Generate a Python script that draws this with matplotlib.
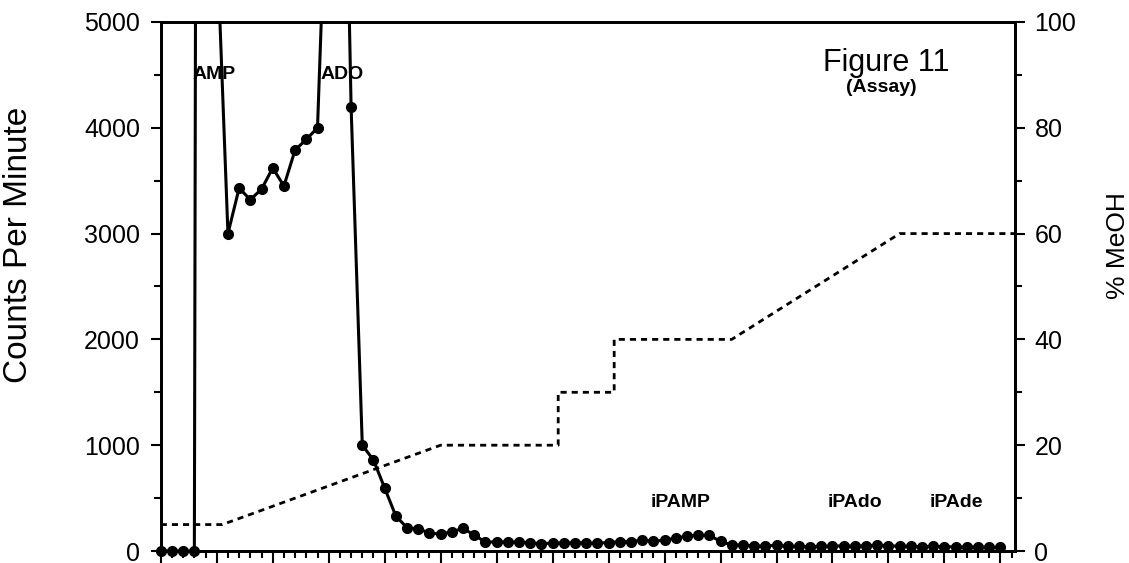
import numpy as np
import matplotlib.pyplot as plt
from matplotlib.ticker import MultipleLocator

plt.rcParams['font.family'] = ['Liberation Sans', 'DejaVu Sans']

# fraction number and counts per minute (peaks at 4-5 and 15-16 run off scale)
fractions = np.arange(76)
counts = [0, 0, 0, 0, 50000, 5800, 3000, 3430, 3320, 3420,
          3620, 3450, 3790, 3890, 4000, 7000, 9500, 4200, 1000, 860,
          595, 330, 220, 210, 170, 160, 180, 215, 150, 85,
          85, 85, 85, 78, 70, 75, 75, 80, 75, 75,
          80, 88, 88, 104, 90, 104, 120, 142, 150, 150,
          90, 57, 57, 47, 47, 55, 45, 45, 40, 45,
          45, 50, 45, 50, 55, 50, 45, 45, 40, 45,
          40, 40, 35, 40, 35, 35]

# methanol gradient breakpoints
meoh_x = [0, 5.5, 25, 35.5, 35.5, 40.5, 40.5, 51, 66, 76.3]
meoh_pct = [5, 5, 20, 20, 30, 30, 40, 40, 60, 60]

peak_names = ['AMP', 'ADO', 'iPAMP', 'iPAdo', 'iPAde']
peak_x = [4.76, 16.2, 46.4, 62.0, 71.1]
peak_y = [4500, 4500, 454, 454, 454]

fig = plt.figure(figsize=(11.29, 5.63), dpi=100)
ax = fig.add_axes([0.1424, 0.0213, 0.7566, 0.9397])

ax.plot(fractions, counts, '-', color='k', lw=2.2)
counts_arr = np.array(counts)
inside = counts_arr <= 5000
ax.plot(fractions[inside], counts_arr[inside], 'o', color='k', ms=7, clip_on=False)
ax.set_xlim(0, 76.3)
ax.set_ylim(0, 5000)

ax2 = ax.twinx()
ax2.plot(meoh_x, meoh_pct, ls=(0, (2.2, 1.8)), color='k', lw=2)
ax2.set_ylim(0, 100)

for a in (ax, ax2):
    for s in a.spines.values():
        s.set_linewidth(2)

ax.xaxis.set_major_locator(MultipleLocator(5))
ax.xaxis.set_minor_locator(MultipleLocator(1))
ax.yaxis.set_major_locator(MultipleLocator(1000))
ax.yaxis.set_minor_locator(MultipleLocator(500))
ax2.yaxis.set_major_locator(MultipleLocator(20))
ax2.yaxis.set_minor_locator(MultipleLocator(10))

ax.tick_params(axis='x', which='both', direction='out', labelbottom=False, width=1.5)
ax.tick_params(axis='x', which='major', length=9)
ax.tick_params(axis='x', which='minor', length=5)
ax.tick_params(axis='y', which='both', direction='out', width=1.5, right=False, labelsize=18, pad=8)
ax.tick_params(axis='y', which='major', length=7)
ax.tick_params(axis='y', which='minor', length=5)
ax2.tick_params(axis='y', which='both', direction='out', width=1.5, labelsize=18, pad=7)
ax2.tick_params(axis='y', which='major', length=7)
ax2.tick_params(axis='y', which='minor', length=5)

ax.set_ylabel('Counts Per Minute', fontsize=24)
ax.yaxis.set_label_coords(-0.148, 0.578)
ax2.set_ylabel('% MeOH', fontsize=19)
ax2.yaxis.set_label_coords(1.1065, 0.578)

for name, px, py in zip(peak_names, peak_x, peak_y):
    ax.text(px, py, name, ha='center', va='center', fontsize=14, fontweight='bold')

ax.text(64.8, 4612, 'Figure 11', ha='center', va='center', fontsize=22)
ax.text(64.4, 4376, '(Assay)', ha='center', va='center', fontsize=14, fontweight='bold')

fig.savefig('out.png', dpi=100)
